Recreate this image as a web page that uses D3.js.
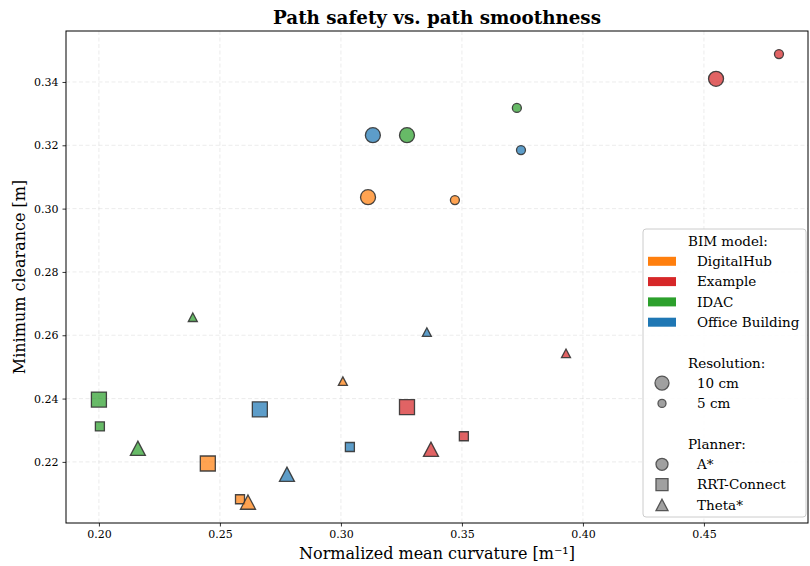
<!DOCTYPE html>
<html>
<head>
<meta charset="utf-8">
<script src="https://cdn.jsdelivr.net/npm/d3@7"></script>
<style>
  body { margin: 0; background: #fff; }
  text { font-family: "DejaVu Serif", serif; fill: #000; }
</style>
</head>
<body>
<script>
// BIM models and their colours
const models = ["DigitalHub", "Example", "IDAC", "Office Building"];
const modelColors = ["#ff7f0e", "#d62728", "#2ca02c", "#1f77b4"];
const planners = ["A*", "RRT-Connect", "Theta*"];
const resolutions = ["10 cm", "5 cm"];

// [curvature, clearance] per model, in the order of `models`
const aStar10 = [[0.3112, 0.3036], [0.4550, 0.3410], [0.3273, 0.3232], [0.3132, 0.3232]];
const aStar5 = [[0.3471, 0.3027], [0.4810, 0.3488], [0.3727, 0.3318], [0.3744, 0.3185]];
const rrt10 = [[0.2450, 0.2195], [0.3273, 0.2373], [0.2000, 0.2397], [0.2665, 0.2366]];
const rrt5 = [[0.2583, 0.2082], [0.3508, 0.2281], [0.2004, 0.2312], [0.3037, 0.2247]];
const theta10 = [[0.2616, 0.2073], [0.3372, 0.2240], [0.2161, 0.2243], [0.2777, 0.2161]];
const theta5 = [[0.3008, 0.2455], [0.3930, 0.2543], [0.2388, 0.2657], [0.3355, 0.2610]];

const xTicks = [0.20, 0.25, 0.30, 0.35, 0.40, 0.45];
const yTicks = [0.22, 0.24, 0.26, 0.28, 0.30, 0.32, 0.34];

const width = 810, height = 566;
const margin = { top: 31, right: 2, bottom: 43, left: 66 };
const iw = width - margin.left - margin.right;
const ih = height - margin.top - margin.bottom;

const svg = d3.select("body").append("svg")
  .attr("width", width)
  .attr("height", height);

const g = svg.append("g")
  .attr("transform", `translate(${margin.left},${margin.top})`);

const x = d3.scaleLinear().domain([0.1864, 0.4930]).range([0, iw]);
const y = d3.scaleLinear().domain([0.2007, 0.3561]).range([ih, 0]);

// grid
g.append("g").selectAll("line").data(xTicks).join("line")
  .attr("x1", d => x(d)).attr("x2", d => x(d))
  .attr("y1", 0).attr("y2", ih)
  .attr("stroke", "#b0b0b0").attr("stroke-opacity", 0.3)
  .attr("stroke-dasharray", "4,2.5").attr("stroke-width", 0.8);
g.append("g").selectAll("line").data(yTicks).join("line")
  .attr("y1", d => y(d)).attr("y2", d => y(d))
  .attr("x1", 0).attr("x2", iw)
  .attr("stroke", "#b0b0b0").attr("stroke-opacity", 0.3)
  .attr("stroke-dasharray", "4,2.5").attr("stroke-width", 0.8);

// axes
const xAxis = g.append("g")
  .attr("transform", `translate(0,${ih})`)
  .call(d3.axisBottom(x).tickValues(xTicks).tickFormat(d3.format(".2f")).tickSizeOuter(0).tickSize(3.5).tickPadding(4));
const yAxis = g.append("g")
  .call(d3.axisLeft(y).tickValues(yTicks).tickFormat(d3.format(".2f")).tickSizeOuter(0).tickSize(3.5).tickPadding(4));
[xAxis, yAxis].forEach(a => {
  a.select(".domain").remove();
  a.selectAll("text").style("font-family", "DejaVu Serif").style("font-size", "11px").attr("fill", "#000");
  a.selectAll("line").attr("stroke", "#000").attr("stroke-width", 0.8);
});

// frame
g.append("rect")
  .attr("width", iw).attr("height", ih)
  .attr("fill", "none").attr("stroke", "#000").attr("stroke-width", 1);

const sizeBig = 15, sizeSmall = 9;

function symbolFor(planner, size) {
  if (planner === "A*") return d3.symbol(d3.symbolCircle, Math.PI * (size / 2) ** 2)();
  if (planner === "RRT-Connect") return d3.symbol(d3.symbolSquare, size * size)();
  // triangle centred on its bounding box
  const h = size * 0.95, w = size;
  return `M0,${-h / 2}L${w / 2},${h / 2}L${-w / 2},${h / 2}Z`;
}

const groups = [
  { planner: "A*", res: "10 cm", pts: aStar10 },
  { planner: "A*", res: "5 cm", pts: aStar5 },
  { planner: "RRT-Connect", res: "10 cm", pts: rrt10 },
  { planner: "RRT-Connect", res: "5 cm", pts: rrt5 },
  { planner: "Theta*", res: "10 cm", pts: theta10 },
  { planner: "Theta*", res: "5 cm", pts: theta5 }
];

const marks = g.append("g");
groups.forEach(grp => {
  const size = grp.res === "10 cm" ? sizeBig : sizeSmall;
  marks.append("g").selectAll("path").data(grp.pts).join("path")
    .attr("d", symbolFor(grp.planner, size))
    .attr("transform", d => `translate(${x(d[0])},${y(d[1])})`)
    .attr("fill", (d, i) => modelColors[i])
    .attr("fill-opacity", 0.72)
    .attr("stroke", "#333")
    .attr("stroke-opacity", 0.9)
    .attr("stroke-width", 1.3);
});

// title and labels
svg.append("text")
  .attr("x", margin.left + iw / 2).attr("y", 24)
  .attr("text-anchor", "middle")
  .style("font-size", "18.3px").style("font-weight", "bold")
  .text("Path safety vs. path smoothness");

svg.append("text")
  .attr("x", margin.left + iw / 2).attr("y", 559)
  .attr("text-anchor", "middle")
  .style("font-size", "16px")
  .text("Normalized mean curvature [m\u207B\u00B9]");

svg.append("text")
  .attr("transform", `translate(25,${margin.top + ih / 2}) rotate(-90)`)
  .attr("text-anchor", "middle")
  .style("font-size", "16px")
  .text("Minimum clearance [m]");

// legend
const lg = svg.append("g").attr("transform", "translate(643,229)");
lg.append("rect")
  .attr("width", 163).attr("height", 288).attr("rx", 3)
  .attr("fill", "#fff").attr("fill-opacity", 0.85)
  .attr("stroke", "#cccccc").attr("stroke-width", 1);

const rowH = 20.3;
const rowY = i => 12 + i * rowH;
const textX = 54;

function header(i, t) {
  lg.append("text").attr("x", 45).attr("y", rowY(i)).attr("dy", "0.35em")
    .style("font-size", "13.5px").text(t);
}
function label(i, t) {
  lg.append("text").attr("x", textX).attr("y", rowY(i)).attr("dy", "0.35em")
    .style("font-size", "13.5px").text(t);
}

header(0, "BIM model:");
models.forEach((m, i) => {
  lg.append("rect")
    .attr("x", 5).attr("y", rowY(i + 1) - 4.5)
    .attr("width", 28).attr("height", 9)
    .attr("fill", modelColors[i]);
  label(i + 1, m);
});

header(6, "Resolution:");
resolutions.forEach((r, i) => {
  const size = r === "10 cm" ? 14 : 8;
  lg.append("path")
    .attr("d", symbolFor("A*", size))
    .attr("transform", `translate(19,${rowY(7 + i)})`)
    .attr("fill", "#a0a0a0").attr("stroke", "#555").attr("stroke-width", 1.3);
  label(7 + i, r);
});

header(10, "Planner:");
planners.forEach((p, i) => {
  lg.append("path")
    .attr("d", symbolFor(p, 12))
    .attr("transform", `translate(19,${rowY(11 + i)})`)
    .attr("fill", "#a0a0a0").attr("stroke", "#555").attr("stroke-width", 1.3);
  label(11 + i, p);
});
</script>
</body>
</html>
